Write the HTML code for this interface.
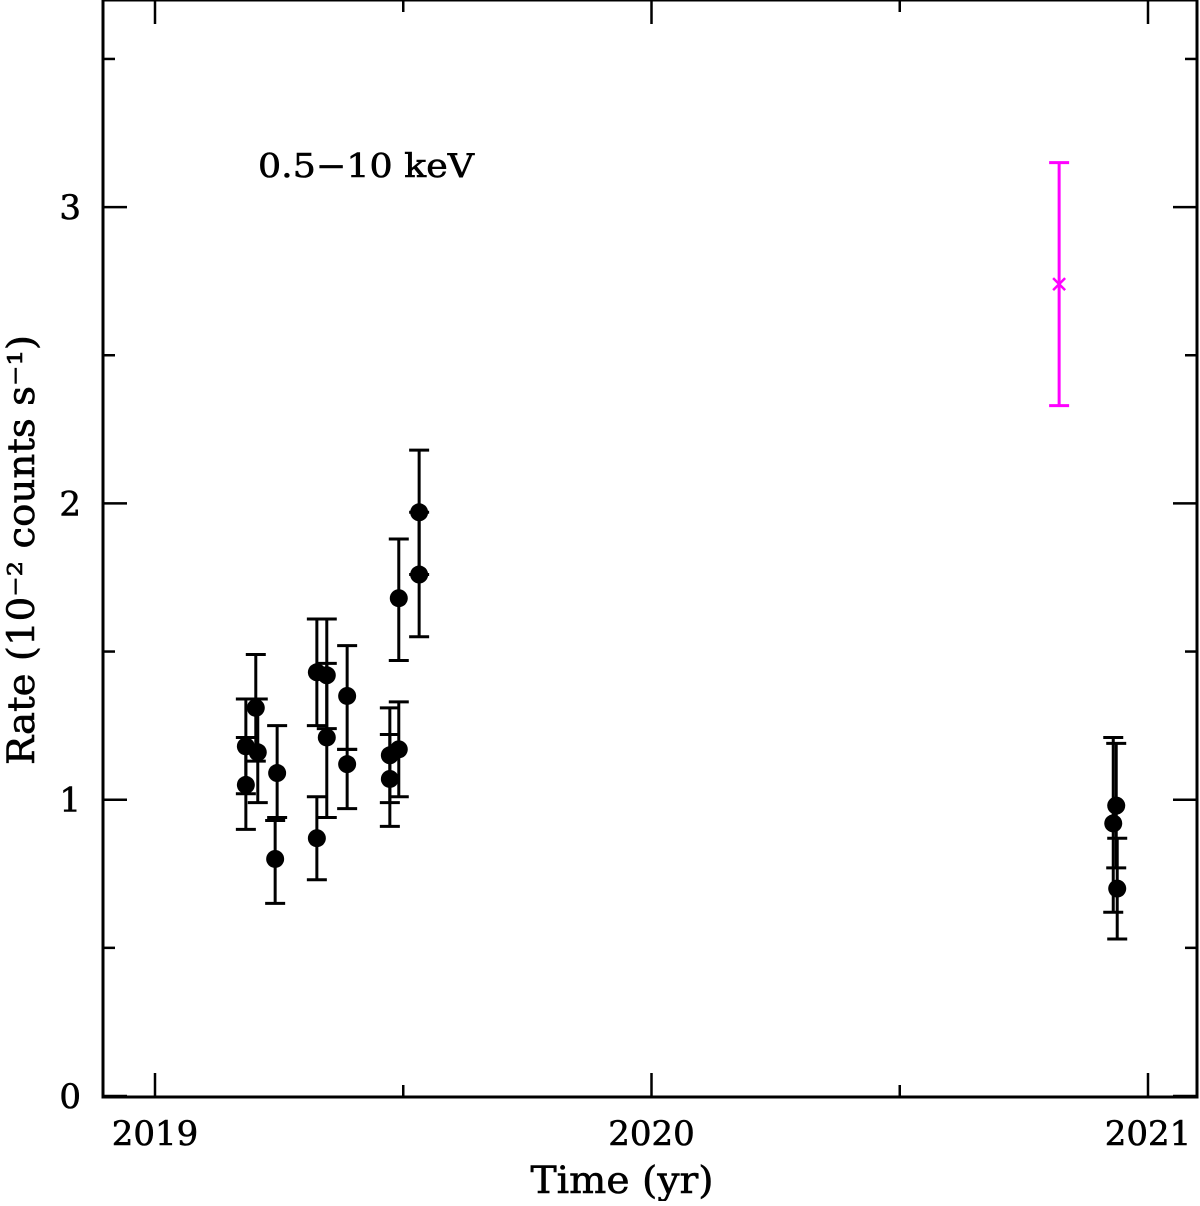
<!DOCTYPE html>
<html><head><meta charset="utf-8"><style>
html,body{margin:0;padding:0;background:#fff}
svg text{font-family:"DejaVu Serif","Liberation Serif",serif;fill:#000;stroke:#000;stroke-width:0.6}
</style></head><body>
<svg id="chart" width="1200" height="1201" xmlns="http://www.w3.org/2000/svg">
<g id="axes"></g>
<g id="marks"></g>
<text x="258" y="177" font-size="33" textLength="216" lengthAdjust="spacingAndGlyphs">0.5−10 keV</text>
<text x="622" y="1193" font-size="37" text-anchor="middle" textLength="183" lengthAdjust="spacingAndGlyphs">Time (yr)</text>
<text transform="translate(34,550) rotate(-90)" font-size="37" text-anchor="middle" textLength="430" lengthAdjust="spacingAndGlyphs">Rate (10⁻² counts s⁻¹)</text>
</svg>
<script>
const times=[2019.183,2019.183,2019.203,2019.207,2019.246,2019.242,2019.326,2019.326,2019.346,2019.346,2019.387,2019.387,2019.473,2019.473,2019.491,2019.491,2019.532,2019.532,2020.936,2020.930,2020.938];
const rates=[1.05,1.18,1.31,1.16,1.09,0.80,1.43,0.87,1.42,1.21,1.35,1.12,1.15,1.07,1.17,1.68,1.97,1.76,0.98,0.92,0.70];
const errLo=[0.90,1.02,1.13,0.99,0.94,0.65,1.25,0.73,1.24,0.94,1.17,0.97,0.99,0.91,1.01,1.47,1.76,1.55,0.77,0.62,0.53];
const errHi=[1.21,1.34,1.49,1.34,1.25,0.93,1.61,1.01,1.61,1.46,1.52,1.17,1.31,1.22,1.33,1.88,2.18,1.97,1.19,1.21,0.87];
const magTime=[2020.821];
const magRate=[2.74];
const magLo=[2.33];
const magHi=[3.15];
const yTicks=[0,1,2,3];
const xTicks=[2019,2020,2021];

const X=t=>155+(t-2019)*496.5;
const Y=v=>1096-v*296.3;
const NS='http://www.w3.org/2000/svg';
function mk(tag,attrs,parent){const e=document.createElementNS(NS,tag);for(const k in attrs)e.setAttribute(k,attrs[k]);parent.appendChild(e);return e;}
const ax=document.getElementById('axes'),mg=document.getElementById('marks');
const frame=mk('rect',{x:103,y:0,width:1094,height:1097,fill:'none',stroke:'#000','stroke-width':3},ax);


for(let v=0;v<=3.5;v+=0.5){
  const y=Y(v),L=(v%1===0)?24:12;
  mk('line',{x1:103,x2:103+L,y1:y,y2:y,stroke:'#000','stroke-width':2.5},ax);
  mk('line',{x1:1197-L,x2:1197,y1:y,y2:y,stroke:'#000','stroke-width':2.5},ax);
}
yTicks.forEach(v=>{const t=mk('text',{x:81,y:Y(v)+12,'font-size':34,'text-anchor':'end'},ax);t.textContent=v;

});
for(let yr=2019;yr<=2021;yr+=0.5){
  const x=X(yr),L=(yr%1===0)?24:12;
  mk('line',{x1:x,x2:x,y1:1097-L,y2:1097,stroke:'#000','stroke-width':2.5},ax);
  mk('line',{x1:x,x2:x,y1:0,y2:L,stroke:'#000','stroke-width':2.5},ax);
}
xTicks.forEach(v=>{const t=mk('text',{x:X(v),y:1145,'font-size':34,'text-anchor':'middle'},ax);t.textContent=v;

});
times.forEach((t,i)=>{
  const g=mk('g',{},mg);
  
  
  const x=X(t);
  mk('line',{x1:x,x2:x,y1:Y(errLo[i]),y2:Y(errHi[i]),stroke:'#000','stroke-width':3},g);
  mk('line',{x1:x-10,x2:x+10,y1:Y(errLo[i]),y2:Y(errLo[i]),stroke:'#000','stroke-width':3},g);
  mk('line',{x1:x-10,x2:x+10,y1:Y(errHi[i]),y2:Y(errHi[i]),stroke:'#000','stroke-width':3},g);
  mk('circle',{cx:x,cy:Y(rates[i]),r:9,fill:'#000'},g);
});
magTime.forEach((t,i)=>{
  const g=mk('g',{},mg);
  
  
  const x=X(t),c='#ff00ff';
  mk('line',{x1:x,x2:x,y1:Y(magLo[i]),y2:Y(magHi[i]),stroke:c,'stroke-width':3},g);
  mk('line',{x1:x-10,x2:x+10,y1:Y(magLo[i]),y2:Y(magLo[i]),stroke:c,'stroke-width':3},g);
  mk('line',{x1:x-10,x2:x+10,y1:Y(magHi[i]),y2:Y(magHi[i]),stroke:c,'stroke-width':3},g);
  const y=Y(magRate[i]);
  mk('path',{d:`M${x-6} ${y-6}L${x+6} ${y+6}M${x+6} ${y-6}L${x-6} ${y+6}`,stroke:c,'stroke-width':2.5},g);
});
</script>
</body></html>
